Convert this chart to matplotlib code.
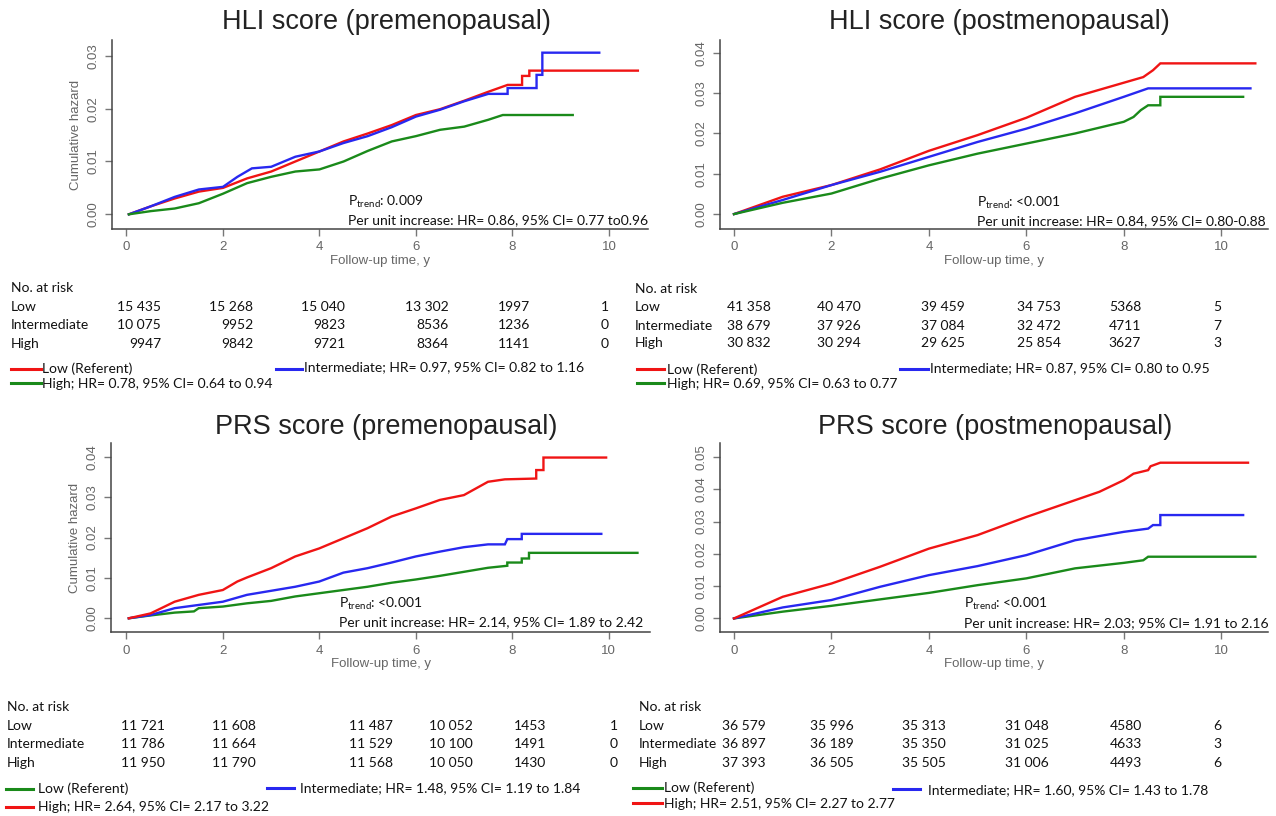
import numpy as np
import matplotlib
matplotlib.use("Agg")
import matplotlib.pyplot as plt

# ---- data (time in years, cumulative hazard) ----
# HLI premenopausal
hli_pre_low_t = [0.05, 0.5, 1.0, 1.5, 2.0, 2.5, 3.0, 3.5, 4.0, 4.5, 5.0, 5.5, 6.0, 6.5, 7.0, 7.5, 7.9, 8.2, 8.2, 8.35, 8.35, 10.6]
hli_pre_low_h = [0.0, 0.0015, 0.003, 0.0043, 0.0050, 0.0068, 0.0081, 0.0100, 0.0119, 0.0138, 0.0153, 0.0169, 0.0188, 0.0199, 0.0215, 0.0232, 0.0245, 0.0245, 0.0262, 0.0262, 0.0272, 0.0272]
hli_pre_int_t = [0.05, 0.5, 1.0, 1.5, 2.0, 2.3, 2.6, 3.0, 3.5, 4.0, 4.5, 5.0, 5.5, 6.0, 6.5, 7.0, 7.5, 7.9, 7.9, 8.5, 8.5, 8.62, 8.62, 9.8]
hli_pre_int_h = [0.0, 0.0015, 0.0033, 0.0047, 0.0052, 0.0071, 0.0087, 0.0090, 0.0109, 0.0119, 0.0135, 0.0148, 0.0165, 0.0185, 0.0198, 0.0214, 0.0228, 0.0228, 0.0239, 0.0239, 0.0264, 0.0264, 0.0306, 0.0306]
hli_pre_high_t = [0.05, 0.5, 1.0, 1.5, 2.0, 2.5, 3.0, 3.5, 4.0, 4.5, 5.0, 5.5, 6.0, 6.5, 7.0, 7.5, 7.8, 9.25]
hli_pre_high_h = [0.0, 0.0006, 0.0011, 0.0021, 0.0039, 0.0059, 0.0071, 0.0081, 0.0085, 0.0100, 0.0120, 0.0138, 0.0148, 0.0160, 0.0166, 0.0179, 0.0188, 0.0188]

# HLI postmenopausal
hli_post_low_t = [0.0, 1.0, 2.0, 3.0, 4.0, 5.0, 6.0, 7.0, 8.0, 8.4, 8.6, 8.75, 10.7]
hli_post_low_h = [0.0, 0.0043, 0.0072, 0.0111, 0.0157, 0.0196, 0.0239, 0.0291, 0.0326, 0.0340, 0.0357, 0.0374, 0.0374]
hli_post_int_t = [0.0, 1.0, 2.0, 3.0, 4.0, 5.0, 6.0, 7.0, 8.0, 8.5, 10.6]
hli_post_int_h = [0.0, 0.0035, 0.0072, 0.0105, 0.0142, 0.0179, 0.0212, 0.0250, 0.0291, 0.0312, 0.0312]
hli_post_high_t = [0.0, 1.0, 2.0, 3.0, 4.0, 5.0, 6.0, 7.0, 8.0, 8.2, 8.35, 8.5, 8.75, 8.75, 10.45]
hli_post_high_h = [0.0, 0.0028, 0.0051, 0.0088, 0.0121, 0.0150, 0.0175, 0.0200, 0.0229, 0.0241, 0.0258, 0.0270, 0.0270, 0.0291, 0.0291]

# PRS premenopausal (here Low = green, High = red)
prs_pre_low_t = [0.05, 0.5, 1.0, 1.4, 1.5, 2.0, 2.5, 3.0, 3.5, 4.0, 4.5, 5.0, 5.5, 6.0, 6.5, 7.0, 7.5, 7.9, 7.9, 8.2, 8.2, 8.35, 8.35, 10.6]
prs_pre_low_h = [0.0, 0.0007, 0.0014, 0.0017, 0.0025, 0.0029, 0.0037, 0.0043, 0.0054, 0.0062, 0.0070, 0.0078, 0.0088, 0.0096, 0.0105, 0.0115, 0.0125, 0.0130, 0.0138, 0.0138, 0.0148, 0.0148, 0.0162, 0.0162]
prs_pre_int_t = [0.05, 0.5, 1.0, 1.5, 2.0, 2.5, 3.0, 3.5, 4.0, 4.5, 5.0, 5.5, 6.0, 6.5, 7.0, 7.5, 7.85, 7.9, 8.2, 8.2, 9.85]
prs_pre_int_h = [0.0, 0.0008, 0.0025, 0.0033, 0.0041, 0.0058, 0.0068, 0.0078, 0.0091, 0.0113, 0.0124, 0.0138, 0.0153, 0.0165, 0.0176, 0.0183, 0.0183, 0.0196, 0.0196, 0.0209, 0.0209]
prs_pre_high_t = [0.05, 0.5, 1.0, 1.5, 2.0, 2.3, 2.5, 3.0, 3.5, 4.0, 4.5, 5.0, 5.5, 6.0, 6.5, 7.0, 7.5, 7.85, 8.5, 8.5, 8.65, 8.65, 9.95]
prs_pre_high_h = [0.0, 0.0012, 0.0041, 0.0058, 0.0070, 0.0091, 0.0101, 0.0124, 0.0153, 0.0173, 0.0198, 0.0223, 0.0252, 0.0272, 0.0293, 0.0305, 0.0338, 0.0344, 0.0346, 0.0367, 0.0367, 0.0398, 0.0398]

# PRS postmenopausal
prs_post_low_t = [0.0, 1.0, 2.0, 3.0, 4.0, 5.0, 6.0, 7.0, 8.0, 8.4, 8.5, 10.7]
prs_post_low_h = [0.0, 0.0021, 0.0039, 0.0059, 0.0079, 0.0103, 0.0124, 0.0155, 0.0172, 0.0180, 0.0191, 0.0191]
prs_post_int_t = [0.0, 1.0, 2.0, 3.0, 4.0, 5.0, 6.0, 7.0, 8.0, 8.5, 8.6, 8.75, 8.75, 10.45]
prs_post_int_h = [0.0, 0.0034, 0.0057, 0.0098, 0.0134, 0.0162, 0.0196, 0.0242, 0.0268, 0.0278, 0.0289, 0.0289, 0.0320, 0.0320]
prs_post_high_t = [0.0, 1.0, 2.0, 3.0, 4.0, 5.0, 6.0, 7.0, 7.5, 8.0, 8.2, 8.5, 8.55, 8.75, 10.55]
prs_post_high_h = [0.0, 0.0067, 0.0108, 0.0160, 0.0216, 0.0258, 0.0314, 0.0366, 0.0392, 0.0428, 0.0448, 0.0459, 0.0471, 0.0482, 0.0482]

# number at risk tables
groups = ["Low", "Intermediate", "High"]
risk_hli_pre = [["15 435", "15 268", "15 040", "13 302", "1997", "1"],
                ["10 075", "9952", "9823", "8536", "1236", "0"],
                ["9947", "9842", "9721", "8364", "1141", "0"]]
risk_hli_post = [["41 358", "40 470", "39 459", "34 753", "5368", "5"],
                 ["38 679", "37 926", "37 084", "32 472", "4711", "7"],
                 ["30 832", "30 294", "29 625", "25 854", "3627", "3"]]
risk_prs_pre = [["11 721", "11 608", "11 487", "10 052", "1453", "1"],
                ["11 786", "11 664", "11 529", "10 100", "1491", "0"],
                ["11 950", "11 790", "11 568", "10 050", "1430", "0"]]
risk_prs_post = [["36 579", "35 996", "35 313", "31 048", "4580", "6"],
                 ["36 897", "36 189", "35 350", "31 025", "4633", "3"],
                 ["37 393", "36 505", "35 505", "31 006", "4493", "6"]]

RED = "#f01414"
BLUE = "#2828f0"
GREEN = "#1a8a1a"
W, H = 1276, 816
FS = 10.0

fig = plt.figure(figsize=(W / 100, H / 100), dpi=100)
fig.patch.set_facecolor("white")

CAL = ["Lato", "DejaVu Sans"]
ARI = ["Liberation Sans", "DejaVu Sans"]


def fx(px):
    return px / W


def fy(py):
    return 1 - py / H


def panel(rect, xlim, ylim, ymax, curves, ylabel):
    l, t, r, b = rect
    ax = fig.add_axes([fx(l), fy(b), (r - l) / W, (b - t) / H])
    for tt, hh, c in curves:
        ax.plot(tt, hh, color=c, lw=1.7, solid_joinstyle="miter")
    ax.set_xlim(*xlim)
    ax.set_ylim(*ylim)
    ax.set_xticks([0, 2, 4, 6, 8, 10])
    yt = np.arange(0, ymax + 0.0001, 0.01)
    ax.set_yticks(yt)
    ax.set_yticklabels(["%.2f" % v for v in yt], rotation=90, va="center",
                       family=ARI)
    for lab in ax.get_xticklabels():
        lab.set_family(ARI)
    for s in ["top", "right"]:
        ax.spines[s].set_visible(False)
    for s in ["left", "bottom"]:
        ax.spines[s].set_color("#444444")
        ax.spines[s].set_linewidth(1.1)
    ax.tick_params(colors="#777777", labelcolor="#666666", labelsize=9.5,
                   length=5, width=1.0, pad=4)
    ax.set_xlabel("Follow-up time, y", color="#666666", fontsize=9.5,
                  family=ARI, labelpad=1)
    if ylabel:
        ax.set_ylabel("Cumulative hazard", color="#666666", fontsize=9.5,
                      family=ARI, labelpad=4)
    return ax


def title(cx, cy, s):
    fig.text(fx(cx), fy(cy), s, ha="center", va="center", fontsize=19.5,
             family=ARI, color="#222222")


def note(x, y1, y2, p, s):
    fig.text(fx(x), fy(y1), "P$_{\\mathregular{trend}}$: " + p, ha="left",
             va="center", fontsize=FS, family=CAL, color="#111111")
    fig.text(fx(x), fy(y2), s, ha="left", va="center", fontsize=FS,
             family=CAL, color="#111111")


def risk_table(x0, ys, cols, rows):
    fig.text(fx(x0), fy(ys[0]), "No. at risk", ha="left", va="center",
             fontsize=FS, family=CAL, color="#111111")
    for g, row, y in zip(groups, rows, ys[1:]):
        fig.text(fx(x0), fy(y), g, ha="left", va="center", fontsize=FS,
                 family=CAL, color="#111111")
        for v, cx in zip(row, cols):
            fig.text(fx(cx), fy(y), v, ha="right", va="center",
                     fontsize=FS, family=CAL, color="#111111")


def legend_item(x1, x2, y, tx, ty, color, s):
    fig.add_artist(plt.Line2D([fx(x1), fx(x2)], [fy(y), fy(y)], color=color,
                              lw=2.2, transform=fig.transFigure))
    fig.text(fx(tx), fy(ty), s, ha="left", va="center", fontsize=FS,
             family=CAL, color="#111111")


# ---- top left: HLI premenopausal ----
title(386, 22, "HLI score (premenopausal)")
panel((112, 40, 648, 229), (-0.30, 10.81), (-0.00278, 0.0330), 0.03,
      [(hli_pre_low_t, hli_pre_low_h, RED),
       (hli_pre_int_t, hli_pre_int_h, BLUE),
       (hli_pre_high_t, hli_pre_high_h, GREEN)], True)
note(348, 202, 220, "0.009",
     "Per unit increase: HR= 0.86, 95% CI= 0.77 to0.96")
risk_table(11, [288, 307, 325, 344], [161, 253, 345, 449, 530, 609],
           risk_hli_pre)
legend_item(11, 41, 369, 42, 369, RED, "Low (Referent)")
legend_item(11, 41, 383, 42, 384, GREEN, "High; HR= 0.78, 95% CI= 0.64 to 0.94")
legend_item(276, 302, 369, 304, 367, BLUE,
            "Intermediate; HR= 0.97, 95% CI= 0.82 to 1.16")

# ---- top right: HLI postmenopausal ----
title(999, 22, "HLI score (postmenopausal)")
panel((720, 40, 1268, 229), (-0.287, 10.96), (-0.0037, 0.0432), 0.04,
      [(hli_post_low_t, hli_post_low_h, RED),
       (hli_post_int_t, hli_post_int_h, BLUE),
       (hli_post_high_t, hli_post_high_h, GREEN)], False)
note(977, 203, 221, "<0.001",
     "Per unit increase: HR= 0.84, 95% CI= 0.80-0.88")
risk_table(635, [289, 307, 326, 343], [771, 861, 965, 1061, 1141, 1221],
           risk_hli_post)
legend_item(637, 664, 369, 667, 370, RED, "Low (Referent)")
legend_item(637, 664, 383, 667, 384, GREEN, "High; HR= 0.69, 95% CI= 0.63 to 0.77")
legend_item(900, 928, 369, 930, 368, BLUE,
            "Intermediate; HR= 0.87, 95% CI= 0.80 to 0.95")

# ---- bottom left: PRS premenopausal ----
title(386, 427, "PRS score (premenopausal)")
panel((111, 443, 650, 632), (-0.32, 10.86), (-0.0034, 0.0434), 0.04,
      [(prs_pre_low_t, prs_pre_low_h, GREEN),
       (prs_pre_int_t, prs_pre_int_h, BLUE),
       (prs_pre_high_t, prs_pre_high_h, RED)], True)
note(339, 604, 622, "<0.001",
     "Per unit increase: HR= 2.14, 95% CI= 1.89 to 2.42")
risk_table(7, [707, 726, 744, 763], [165, 256, 393, 473, 546, 618],
           risk_prs_pre)
legend_item(6, 33, 789, 38, 789, GREEN, "Low (Referent)")
legend_item(6, 33, 807, 38, 807, RED, "High; HR= 2.64, 95% CI= 2.17 to 3.22")
legend_item(267, 294, 788, 300, 788, BLUE,
            "Intermediate; HR= 1.48, 95% CI= 1.19 to 1.84")

# ---- bottom right: PRS postmenopausal ----
title(995, 427, "PRS score (postmenopausal)")
panel((720, 443, 1268, 632), (-0.287, 10.96), (-0.0042, 0.0543), 0.05,
      [(prs_post_low_t, prs_post_low_h, GREEN),
       (prs_post_int_t, prs_post_int_h, BLUE),
       (prs_post_high_t, prs_post_high_h, RED)], False)
note(964, 604, 623, "<0.001",
     "Per unit increase: HR= 2.03; 95% CI= 1.91 to 2.16")
risk_table(639, [707, 726, 744, 763], [766, 854, 946, 1049, 1142, 1221],
           risk_prs_post)
legend_item(633, 662, 788, 664, 788, GREEN, "Low (Referent)")
legend_item(633, 662, 803, 664, 804, RED, "High; HR= 2.51, 95% CI= 2.27 to 2.77")
legend_item(893, 920, 789, 928, 790, BLUE,
            "Intermediate; HR= 1.60, 95% CI= 1.43 to 1.78")

fig.savefig("out.png", dpi=100)
